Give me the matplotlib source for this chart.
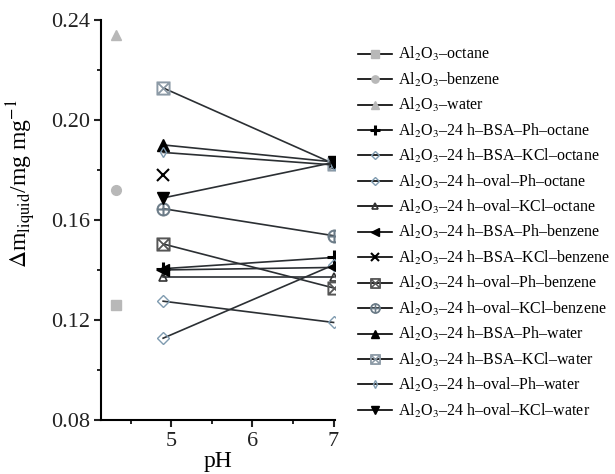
import numpy as np
import matplotlib
matplotlib.use("Agg")
import matplotlib.pyplot as plt
from matplotlib.ticker import MultipleLocator

plt.rcParams["font.family"] = ["Liberation Serif", "DejaVu Serif"]
plt.rcParams["mathtext.fontset"] = "stix"

# pH values
ph_bare = [4.32]
ph = [4.9, 7.0]

# bare Al2O3 (single points at natural pH)
al_octane = [0.126]
al_benzene = [0.172]
al_water = [0.234]

# protein-coated Al2O3, values at pH 4.9 and 7
bsa_ph_octane = [0.1405, 0.145]
bsa_kcl_octane = [0.1275, 0.119]
oval_ph_octane = [0.1127, 0.142]
oval_kcl_octane = [0.137, 0.137]
bsa_ph_benzene = [0.1400, 0.141]
bsa_kcl_benzene = [0.178, np.nan]
oval_ph_benzene = [0.1504, 0.1328]
oval_kcl_benzene = [0.1645, 0.1537]
bsa_ph_water = [0.190, 0.1832]
bsa_kcl_water = [0.2128, 0.1825]
oval_ph_water = [0.187, 0.182]
oval_kcl_water = [0.1688, 0.1830]

labels = [
    "Al$_2$O$_3$\u2013octane",
    "Al$_2$O$_3$\u2013benzene",
    "Al$_2$O$_3$\u2013water",
    "Al$_2$O$_3$\u201324 h\u2013BSA\u2013Ph\u2013octane",
    "Al$_2$O$_3$\u201324 h\u2013BSA\u2013KCl\u2013octane",
    "Al$_2$O$_3$\u201324 h\u2013oval\u2013Ph\u2013octane",
    "Al$_2$O$_3$\u201324 h\u2013oval\u2013KCl\u2013octane",
    "Al$_2$O$_3$\u201324 h\u2013BSA\u2013Ph\u2013benzene",
    "Al$_2$O$_3$\u201324 h\u2013BSA\u2013KCl\u2013benzene",
    "Al$_2$O$_3$\u201324 h\u2013oval\u2013Ph\u2013benzene",
    "Al$_2$O$_3$\u201324 h\u2013oval\u2013KCl\u2013benzene",
    "Al$_2$O$_3$\u201324 h\u2013BSA\u2013Ph\u2013water",
    "Al$_2$O$_3$\u201324 h\u2013BSA\u2013KCl\u2013water",
    "Al$_2$O$_3$\u201324 h\u2013oval\u2013Ph\u2013water",
    "Al$_2$O$_3$\u201324 h\u2013oval\u2013KCl\u2013water",
]

fig = plt.figure(figsize=(6.15, 4.74), dpi=100)
ax = fig.add_axes([0.165, 0.114, 0.38, 0.844])

line_col = "#2b2f33"
gray = "#b8b8b8"
blue_gray = "#7f9bb0"

# (x, y, marker, size, face, edge, mew)
series = [
    (ph_bare, al_octane, "s", 7, gray, gray, 1),
    (ph_bare, al_benzene, "o", 7, gray, gray, 1),
    (ph_bare, al_water, "^", 7, gray, gray, 1),
    (ph, bsa_ph_octane, "+", 10, "black", "black", 2.2),
    (ph, bsa_kcl_octane, "D", 6, "none", blue_gray, 1),
    (ph, oval_ph_octane, "D", 6, "none", blue_gray, 1),
    (ph, oval_kcl_octane, "^", 6, "none", "#333333", 1.2),
    (ph, bsa_ph_benzene, "<", 8, "black", "black", 1),
    (ph, bsa_kcl_benzene, "x", 8, "black", "black", 1.5),
    (ph, oval_ph_benzene, r"$\boxtimes$", 9.5, "#555555", "#555555", 0.6),
    (ph, oval_kcl_benzene, r"$\oplus$", 9.5, "#6a7a86", "#6a7a86", 0.6),
    (ph, bsa_ph_water, "^", 8, "black", "black", 1),
    (ph, bsa_kcl_water, r"$\boxtimes$", 9.5, "#8c9aa6", "#8c9aa6", 0.6),
    (ph, oval_ph_water, "d", 5, "none", blue_gray, 1),
    (ph, oval_kcl_water, "v", 8, "black", "black", 1),
]

handles = []
for (xs, ys, m, ms, fc, ec, mew), lab in zip(series, labels):
    h, = ax.plot(xs, ys, color=line_col, lw=1.2, marker=m, ms=ms,
                 mfc=fc, mec=ec, mew=mew, label=lab)
    handles.append(h)

ax.set_xlim(4.14, 7.02)
ax.set_ylim(0.08, 0.24)
ax.xaxis.set_major_locator(MultipleLocator(1))
ax.xaxis.set_minor_locator(MultipleLocator(0.5))
ax.yaxis.set_major_locator(MultipleLocator(0.04))
ax.yaxis.set_minor_locator(MultipleLocator(0.02))
ax.yaxis.set_major_formatter(matplotlib.ticker.FormatStrFormatter("%.2f"))
ax.set_xticks([5, 6, 7])

for s in ["top", "right"]:
    ax.spines[s].set_visible(False)
for s in ["left", "bottom"]:
    ax.spines[s].set_linewidth(1.5)
ax.tick_params(which="major", direction="out", length=5, width=1.5,
               labelsize=16, colors="#222222")
ax.tick_params(which="minor", direction="out", length=3, width=1.2)

ax.set_xlabel("pH", fontsize=17, labelpad=0)
ax.set_ylabel(r"$\Delta$m$_{\mathrm{liquid}}$/mg mg$^{-1}$", fontsize=17)
ax.yaxis.set_label_coords(-0.27, 0.59)

leg = fig.legend(handles=handles, loc="upper left", bbox_to_anchor=(0.572, 0.918),
                 frameon=False, fontsize=11.5, handlelength=2.1, labelspacing=0.46,
                 handletextpad=0.4, borderaxespad=0, markerscale=0.75)
for h in leg.legend_handles:
    h.set_color("black")

fig.savefig("out.png", dpi=100)
